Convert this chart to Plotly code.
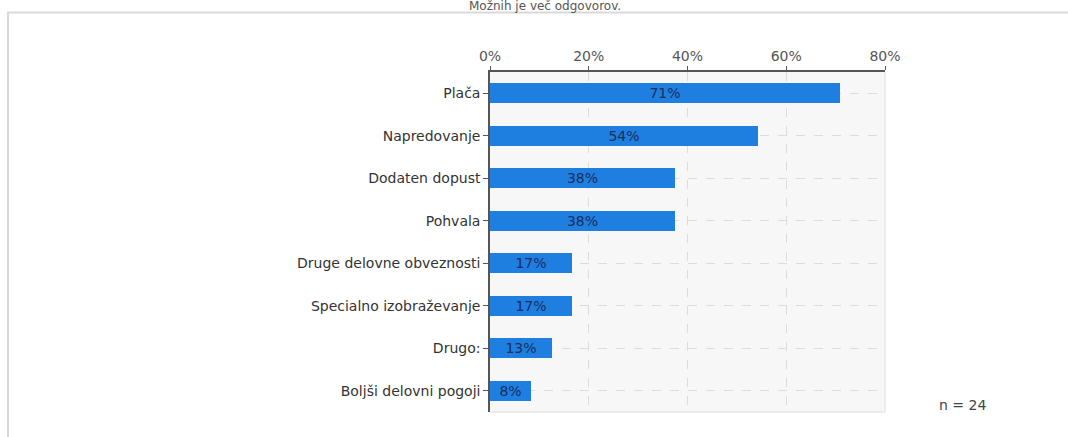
import plotly.graph_objects as go

categories = ["Plača", "Napredovanje", "Dodaten dopust", "Pohvala",
              "Druge delovne obveznosti", "Specialno izobraževanje",
              "Drugo:", "Boljši delovni pogoji"]
values = [70.8, 54.2, 37.5, 37.5, 16.7, 16.7, 12.5, 8.3]
labels = ["71%", "54%", "38%", "38%", "17%", "17%", "13%", "8%"]
x_ticks = [0, 20, 40, 60, 80]
x_tick_labels = ["0%", "20%", "40%", "60%", "80%"]
title_text = "Možnih je več odgovorov."
n_text = "n = 24"

W, H = 1068, 437
L, R, T, B = 490, 183, 72, 25
pw, ph = W - L - R, H - T - B

def px2x(p):
    return (p - L) / pw

def px2y(p):
    return (H - B - p) / ph

font_family = "DejaVu Sans, Verdana, sans-serif"

fig = go.Figure()
fig.add_trace(go.Bar(
    y=categories, x=values, orientation="h",
    width=0.47,
    marker=dict(color="#1e7fe0", line=dict(width=0)),
    text=labels, textposition="inside", insidetextanchor="middle",
    constraintext="none",
    textfont=dict(color="#1b2d5c", size=14, family=font_family),
    hoverinfo="skip",
))

fig.update_layout(
    width=W, height=H,
    margin=dict(l=L, r=R, t=T, b=B, pad=0),
    paper_bgcolor="white",
    plot_bgcolor="#f7f7f7",
    showlegend=False,
    font=dict(family=font_family, size=14, color="#333333"),
    bargap=0,
    xaxis=dict(
        side="top", range=[0, 80], tickvals=x_ticks, ticktext=x_tick_labels,
        showgrid=True, gridcolor="#dcdcdc", griddash="dash", gridwidth=1,
        showline=True, linecolor="#555555", linewidth=1.5,
        ticks="outside", ticklen=4, tickcolor="#555555",
        tickfont=dict(size=14, color="#555555", family=font_family),
        zeroline=False, fixedrange=True,
    ),
    yaxis=dict(
        categoryorder="array", categoryarray=categories, autorange="reversed",
        showgrid=True, gridcolor="#dcdcdc", griddash="dash", gridwidth=1,
        showline=True, linecolor="#555555", linewidth=1.5,
        ticks="outside", ticklen=5, tickcolor="#555555",
        tickfont=dict(size=14, color="#333333", family=font_family),
        zeroline=False, fixedrange=True,
    ),
)

# light border around plot area (bottom and right)
fig.add_shape(type="line", xref="paper", yref="paper", x0=0, x1=1, y0=0, y1=0,
              line=dict(color="#dddddd", width=1), layer="below")
fig.add_shape(type="line", xref="paper", yref="paper", x0=1, x1=1, y0=0, y1=1,
              line=dict(color="#dddddd", width=1), layer="below")

# outer frame
fig.add_shape(type="rect", xref="paper", yref="paper",
              x0=px2x(8), x1=px2x(1085), y0=px2y(12.5), y1=px2y(460),
              line=dict(color="#d9d9d9", width=2), fillcolor="rgba(0,0,0,0)")

# title at top
fig.add_annotation(text=title_text, xref="paper", yref="paper",
                   x=px2x(545), y=px2y(5.5), xanchor="center", yanchor="middle",
                   showarrow=False, font=dict(size=12, color="#555555", family=font_family))

# n annotation
fig.add_annotation(text=n_text, xref="paper", yref="paper",
                   x=px2x(962), y=px2y(405), xanchor="center", yanchor="middle",
                   showarrow=False, font=dict(size=14, color="#444444", family=font_family))

fig.write_html("out.html")
